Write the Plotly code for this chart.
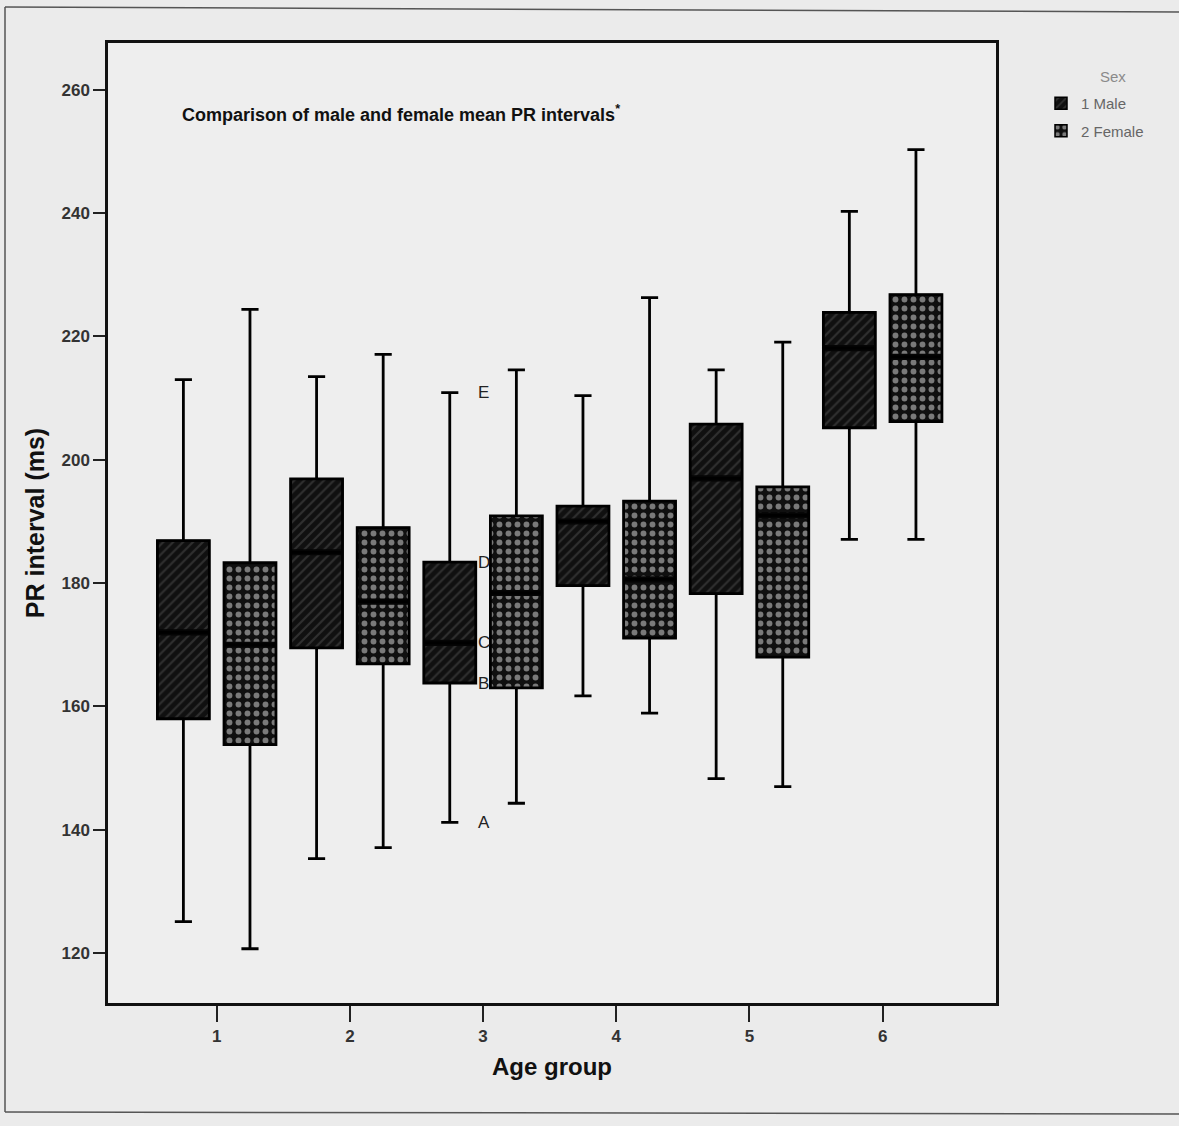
import plotly.graph_objects as go

# Age groups on the x axis
age_groups = [1, 2, 3, 4, 5, 6]
tick_labels = ["1", "2", "3", "4", "5", "6"]

# PR interval (ms) box statistics, males
male_low = [125.1, 135.3, 141.2, 161.7, 148.3, 187.1]
male_q1 = [158.0, 169.5, 163.8, 179.6, 178.3, 205.2]
male_med = [172.0, 185.0, 170.3, 190.0, 197.0, 218.1]
male_q3 = [186.9, 196.9, 183.4, 192.5, 205.8, 223.9]
male_high = [213.0, 213.5, 210.9, 210.4, 214.6, 240.3]

# PR interval (ms) box statistics, females
female_low = [120.7, 137.1, 144.3, 158.9, 147.0, 187.1]
female_q1 = [153.8, 166.9, 163.0, 171.1, 168.0, 206.2]
female_med = [170.0, 177.0, 178.4, 180.6, 191.0, 216.7]
female_q3 = [183.3, 189.0, 190.9, 193.3, 195.6, 226.8]
female_high = [224.4, 217.1, 214.6, 226.3, 219.1, 250.3]

# Letters marking the parts of one box plot (age group 3, males)
part_labels = ["A", "B", "C", "D", "E"]
part_values = [male_low[2], male_q1[2], male_med[2], male_q3[2], male_high[2]]

FONT = "Liberation Sans, Arial, sans-serif"
MEDIAN_BAND = 1.0  # thickness of the median band, in ms

series = [
    dict(name="1 Male", group="m", low=male_low, q1=male_q1, med=male_med,
         q3=male_q3, high=male_high,
         pattern=dict(shape="/", fgcolor="#303030", bgcolor="#101010",
                      size=7, solidity=0.3, fillmode="replace")),
    dict(name="2 Female", group="f", low=female_low, q1=female_q1, med=female_med,
         q3=female_q3, high=female_high,
         pattern=dict(shape=".", fgcolor="#7a7a7a", bgcolor="#101010",
                      size=9, solidity=0.33, fillmode="replace")),
]

fig = go.Figure()

# Patterned box bodies (interquartile range) drawn as floating bars
for s in series:
    fig.add_trace(go.Bar(
        x=age_groups,
        y=[b - a for a, b in zip(s["q1"], s["q3"])],
        base=s["q1"],
        name=s["name"],
        legendgroup=s["group"],
        offsetgroup=s["group"],
        marker=dict(color="#111111",
                    line=dict(color="#000000", width=1.5),
                    pattern=s["pattern"]),
        hoverinfo="skip",
    ))

# Thick median bands
for s in series:
    fig.add_trace(go.Bar(
        x=age_groups,
        y=[MEDIAN_BAND] * len(age_groups),
        base=[m - MEDIAN_BAND / 2 for m in s["med"]],
        offsetgroup=s["group"],
        marker=dict(color="#050505", line=dict(width=0)),
        showlegend=False,
        hoverinfo="skip",
    ))

# Whiskers, caps and outlines
for s in series:
    fig.add_trace(go.Box(
        x=age_groups,
        lowerfence=s["low"], q1=s["q1"], median=s["med"], q3=s["q3"],
        upperfence=s["high"],
        offsetgroup=s["group"],
        fillcolor="rgba(0,0,0,0)",
        line=dict(color="#000000", width=2.8),
        whiskerwidth=0.33,
        boxpoints=False,
        showlegend=False,
        hoverinfo="skip",
    ))

annotations = [
    dict(
        text="Comparison of male and female mean PR intervals<sup>*</sup>",
        xref="paper", yref="paper", x=0.081, y=0.927,
        xanchor="left", yanchor="middle", showarrow=False,
        font=dict(family=FONT, size=18, color="#111111", weight="bold"),
    ),
    dict(
        text="Sex", xref="paper", yref="paper",
        x=(1113 - 108) / 888, y=(1003 - 77) / 960,
        xanchor="center", yanchor="middle", showarrow=False,
        font=dict(family=FONT, size=15, color="#8a8a8a"),
    ),
]
for lab, val in zip(part_labels, part_values):
    annotations.append(dict(
        text=lab, x=age_groups[2], y=val, xref="x", yref="y",
        xanchor="left", yanchor="middle", xshift=-7, showarrow=False,
        font=dict(family=FONT, size=17, color="#222222"),
    ))

def px_x(p):
    return (p - 108) / 888

def px_y(p):
    return (1003 - p) / 960

# Outer page frame
frame = dict(type="line", xref="paper", yref="paper",
             line=dict(color="#555555", width=1.5))
shapes = [
    dict(frame, x0=px_x(5), y0=px_y(7), x1=px_x(1179), y1=px_y(12)),
    dict(frame, x0=px_x(5), y0=px_y(7), x1=px_x(5), y1=px_y(1112)),
    dict(frame, x0=px_x(5), y0=px_y(1112), x1=px_x(1179), y1=px_y(1114)),
]

fig.update_layout(
    width=1179, height=1126,
    margin=dict(l=108, r=183, t=43, b=123),
    paper_bgcolor="#ebebeb",
    plot_bgcolor="#eeeeee",
    barmode="group", bargap=0, bargroupgap=0.22,
    boxmode="group", boxgap=0, boxgroupgap=0.22,
    font=dict(family=FONT, color="#222222"),
    annotations=annotations,
    shapes=shapes,
    legend=dict(
        x=px_x(1041), y=px_y(87), xanchor="left", yanchor="top",
        font=dict(family=FONT, size=15, color="#666666"),
        bgcolor="rgba(0,0,0,0)",
        traceorder="grouped",
        tracegroupgap=5,
    ),
    xaxis=dict(
        range=[0.184, 6.851],
        tickmode="array", tickvals=age_groups, ticktext=tick_labels,
        ticks="outside", ticklen=16, tickwidth=2, tickcolor="#222222",
        showline=True, linecolor="#111111", linewidth=2.5, mirror=True,
        showgrid=False, zeroline=False,
        tickfont=dict(family=FONT, size=17, color="#333333", weight="bold"),
        title=dict(text="Age group", standoff=14,
                   font=dict(family=FONT, size=24, color="#111111", weight="bold")),
    ),
    yaxis=dict(
        range=[111.9, 267.6],
        tickmode="array", tickvals=[120, 140, 160, 180, 200, 220, 240, 260],
        ticks="outside", ticklen=12, tickwidth=2, tickcolor="#222222",
        showline=True, linecolor="#111111", linewidth=2.5, mirror=True,
        showgrid=False, zeroline=False,
        tickfont=dict(family=FONT, size=17, color="#333333", weight="bold"),
        title=dict(text="PR interval (ms)", standoff=10,
                   font=dict(family=FONT, size=25, color="#111111", weight="bold")),
    ),
)

fig.write_html("out.html")
